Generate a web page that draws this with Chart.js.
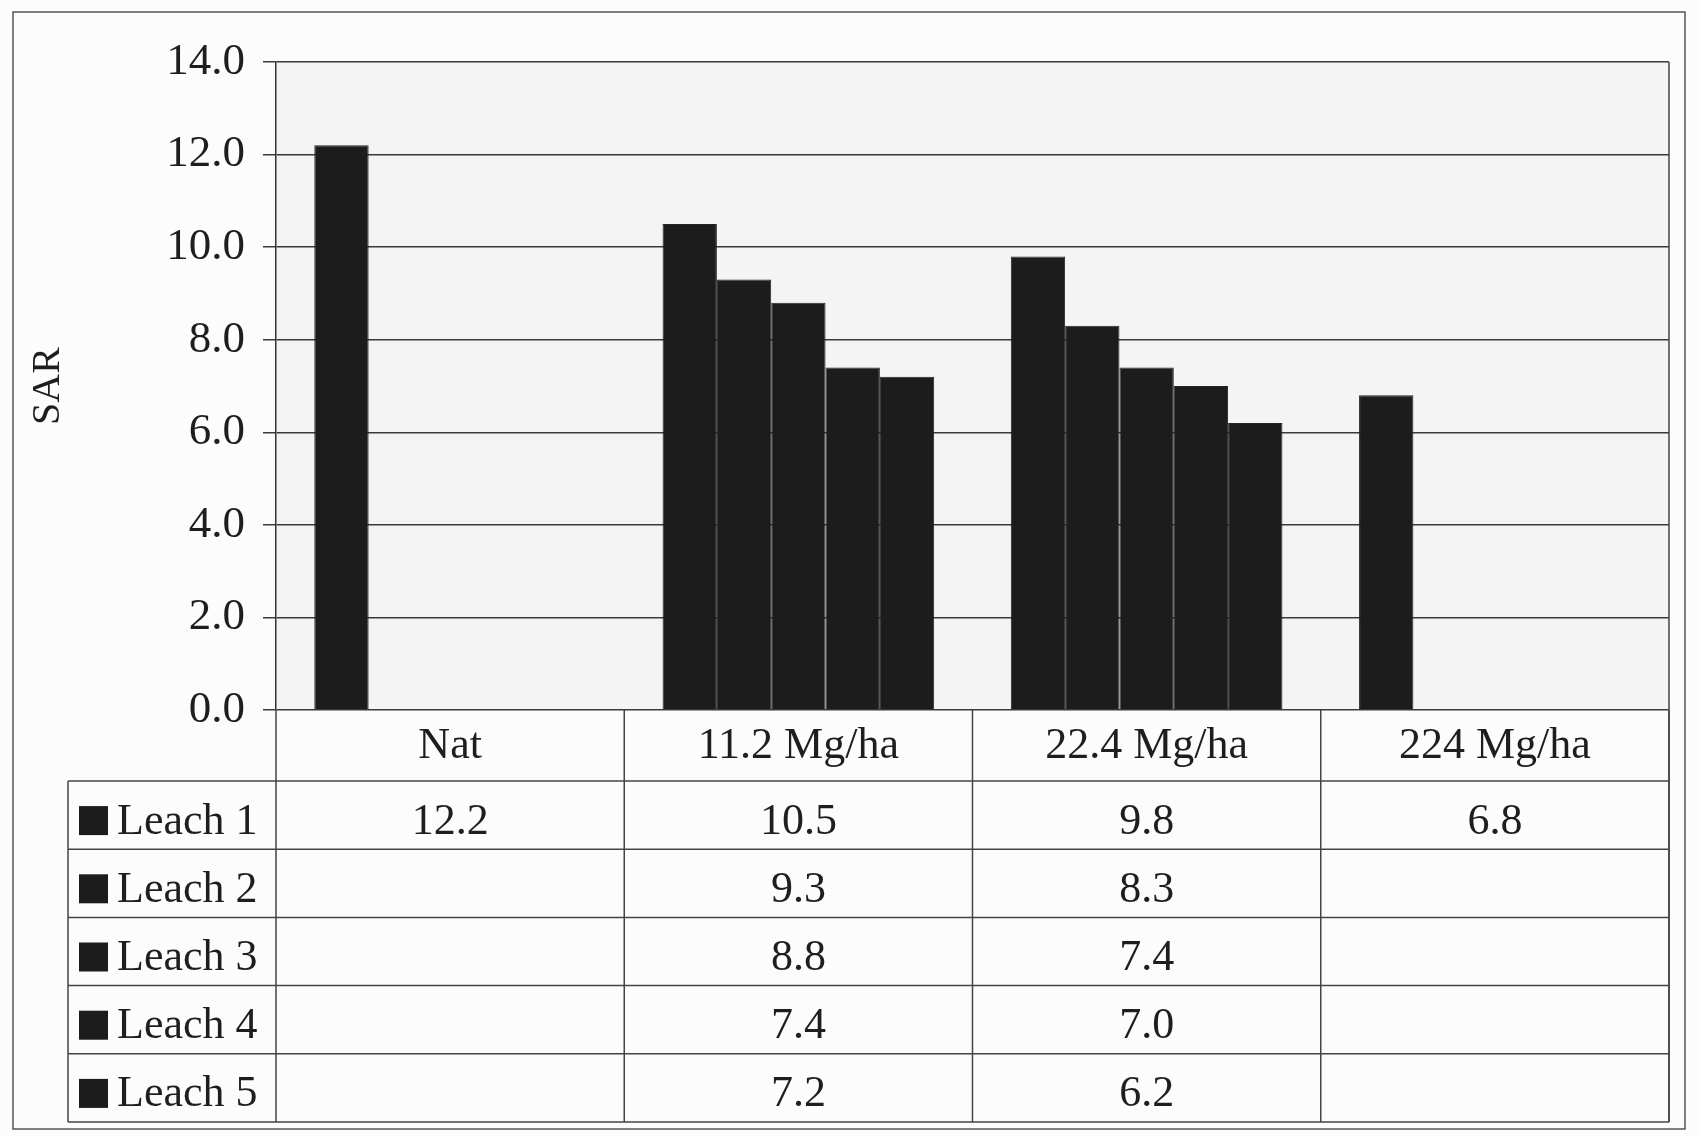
<!DOCTYPE html>
<html>
<head>
<meta charset="utf-8">
<script src="https://cdn.jsdelivr.net/npm/chart.js@4.4.0/dist/chart.umd.min.js"></script>
<style>
  body { margin: 0; background: #fbfbfb; }
  canvas { display: block; }
</style>
</head>
<body>
<canvas id="myChart" width="1699" height="1136"></canvas>
<script>
const categories = ["Nat", "11.2 Mg/ha", "22.4 Mg/ha", "224 Mg/ha"];
const seriesNames = ["Leach 1", "Leach 2", "Leach 3", "Leach 4", "Leach 5"];
const leach1 = [12.2, 10.5, 9.8, 6.8];
const leach2 = [null, 9.3, 8.3, null];
const leach3 = [null, 8.8, 7.4, null];
const leach4 = [null, 7.4, 7.0, null];
const leach5 = [null, 7.2, 6.2, null];
const yMin = 0;
const yMax = 14;
const yStep = 2;

const serif = "'Liberation Serif', 'Times New Roman', serif";
const ink = "#1e1e1e";
const barColor = "#1c1c1c";

const ctx = document.getElementById("myChart");

// page + plot background, outer frame
const backdrop = {
  id: "backdrop",
  beforeDraw(chart) {
    const c = chart.ctx;
    const a = chart.chartArea;
    c.save();
    c.fillStyle = "#fcfcfc";
    c.fillRect(0, 0, chart.width, chart.height);
    c.fillStyle = "#f4f4f4";
    c.fillRect(a.left, a.top, a.right - a.left, a.bottom - a.top);
    c.strokeStyle = "#555";
    c.lineWidth = 1.5;
    c.strokeRect(13, 12, 1672, 1117);
    c.restore();
  },
};

// data table under the plot, columns follow the x scale
const dataTable = {
  id: "dataTable",
  afterDraw(chart) {
    const c = chart.ctx;
    const a = chart.chartArea;
    const x = chart.scales.x;
    const colW = (a.right - a.left) / categories.length;
    const legendLeft = 68;
    const headBottom = 781;
    const rowH = 68.2;
    const tableBottom = headBottom + rowH * seriesNames.length;

    c.save();
    c.strokeStyle = "#444";
    c.lineWidth = 1.5;

    // right border of plot
    c.beginPath();
    c.moveTo(a.right, a.top);
    c.lineTo(a.right, tableBottom);
    c.stroke();

    // column dividers
    for (let i = 0; i <= categories.length; i++) {
      const cx = a.left + i * colW;
      c.beginPath();
      c.moveTo(cx, a.bottom);
      c.lineTo(cx, tableBottom);
      c.stroke();
    }
    // legend column left edge
    c.beginPath();
    c.moveTo(legendLeft, headBottom);
    c.lineTo(legendLeft, tableBottom);
    c.stroke();

    // row lines
    for (let r = 0; r <= seriesNames.length; r++) {
      const ry = headBottom + r * rowH;
      c.beginPath();
      c.moveTo(legendLeft, ry);
      c.lineTo(a.right, ry);
      c.stroke();
    }

    c.fillStyle = ink;
    c.font = "44px " + serif;
    c.textAlign = "center";
    c.textBaseline = "middle";
    categories.forEach((cat, i) => {
      c.fillText(cat, x.getPixelForValue(i), (a.bottom + headBottom) / 2 + 1);
    });

    chart.data.datasets.forEach((ds, r) => {
      const cy = headBottom + r * rowH + rowH / 2 + 7;
      // legend key
      c.fillStyle = ds.backgroundColor;
      c.fillRect(79, cy - 16, 29, 29);
      c.fillStyle = ink;
      c.textAlign = "left";
      c.fillText(ds.label, 117, cy);
      c.textAlign = "center";
      ds.data.forEach((v, i) => {
        if (v === null) return;
        c.fillText(v.toFixed(1), x.getPixelForValue(i), cy);
      });
    });
    c.restore();
  },
};

const allSeries = [leach1, leach2, leach3, leach4, leach5];

new Chart(ctx, {
  type: "bar",
  data: {
    labels: categories,
    datasets: allSeries.map((vals, idx) => ({
      label: seriesNames[idx],
      data: vals,
      backgroundColor: barColor,
      borderColor: "#242424",
      borderWidth: 1,
      categoryPercentage: 0.78,
      barPercentage: 1.0,
    })),
  },
  options: {
    responsive: false,
    animation: false,
    devicePixelRatio: 1,
    layout: {
      padding: { left: 20, top: 62, right: 30, bottom: 426 },
    },
    plugins: {
      legend: { display: false },
      tooltip: { enabled: false },
    },
    scales: {
      x: {
        display: false,
      },
      y: {
        min: yMin,
        max: yMax,
        afterFit(scale) {
          scale.width = 256;
        },
        ticks: {
          stepSize: yStep,
          padding: 18,
          color: ink,
          font: { family: serif, size: 45 },
          callback: (v) => v.toFixed(1),
        },
        grid: {
          color: "#3a3a3a",
          lineWidth: 1.5,
          tickLength: 13,
          drawTicks: true,
        },
        border: { display: true, color: "#333", width: 1.5 },
        title: {
          display: true,
          text: "SAR",
          color: ink,
          font: { family: serif, size: 40 },
        },
      },
    },
  },
  plugins: [backdrop, dataTable],
});
</script>
</body>
</html>
